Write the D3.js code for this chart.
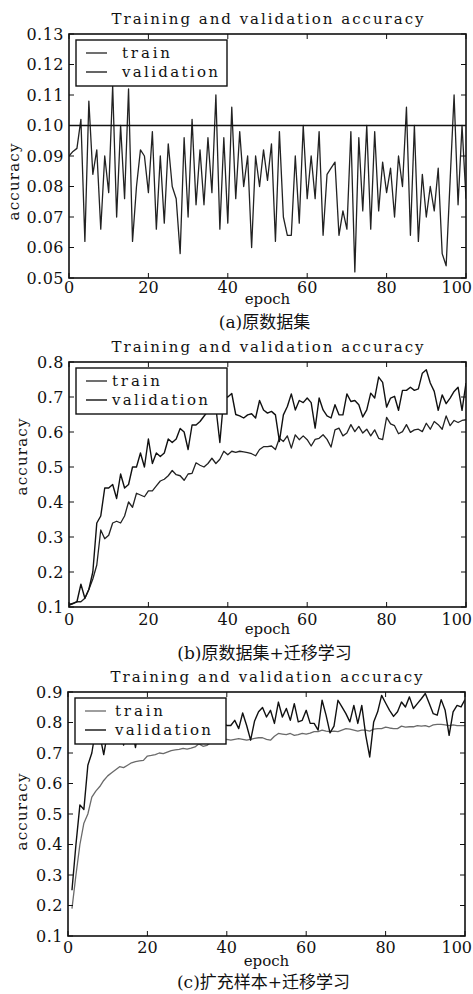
<!DOCTYPE html>
<html>
<head>
<meta charset="utf-8">
<script src="https://cdn.jsdelivr.net/npm/d3@7"></script>
<style>
  body { margin: 0; background: #fff; }
  svg { display: block; }
  text { font-family: "DejaVu Serif", "Noto Sans CJK SC", serif; fill: #111; }
</style>
</head>
<body>
<div id="chart"></div>
<script>
// ---- data ----
const seriesNames = ["train", "validation"];
const titleText = "Training and validation accuracy";
const captions = ["(a)原数据集", "(b)原数据集+迁移学习", "(c)扩充样本+迁移学习"];
const xTicks = [0, 20, 40, 60, 80, 100];
const yTicksA = [0.05, 0.06, 0.07, 0.08, 0.09, 0.10, 0.11, 0.12, 0.13];
const yTicksB = [0.1, 0.2, 0.3, 0.4, 0.5, 0.6, 0.7, 0.8];
const yTicksC = [0.1, 0.2, 0.3, 0.4, 0.5, 0.6, 0.7, 0.8, 0.9];

// (a) epochs 0..100
const trainA = [
  0.090, 0.0915, 0.0925, 0.102, 0.062, 0.108, 0.084, 0.092, 0.066, 0.090,
  0.078, 0.113, 0.070, 0.100, 0.076, 0.112, 0.062, 0.080, 0.092, 0.090,
  0.078, 0.098, 0.066, 0.090, 0.068, 0.094, 0.080, 0.076, 0.058, 0.096,
  0.070, 0.102, 0.074, 0.092, 0.074, 0.096, 0.078, 0.110, 0.066, 0.096,
  0.068, 0.106, 0.076, 0.098, 0.080, 0.090, 0.060, 0.090, 0.080, 0.092,
  0.082, 0.094, 0.062, 0.098, 0.070, 0.064, 0.064, 0.090, 0.068, 0.100,
  0.076, 0.090, 0.076, 0.098, 0.064, 0.084, 0.086, 0.088, 0.064, 0.072,
  0.066, 0.098, 0.052, 0.096, 0.072, 0.100, 0.066, 0.098, 0.072, 0.088,
  0.078, 0.086, 0.070, 0.090, 0.080, 0.106, 0.064, 0.100, 0.062, 0.084,
  0.070, 0.080, 0.072, 0.086, 0.058, 0.054, 0.082, 0.110, 0.074, 0.100,
  0.076
];
const valA = [
  0.1, 0.1, 0.1, 0.1, 0.1, 0.1, 0.1, 0.1, 0.1, 0.1,
  0.1, 0.1, 0.1, 0.1, 0.1, 0.1, 0.1, 0.1, 0.1, 0.1,
  0.1, 0.1, 0.1, 0.1, 0.1, 0.1, 0.1, 0.1, 0.1, 0.1,
  0.1, 0.1, 0.1, 0.1, 0.1, 0.1, 0.1, 0.1, 0.1, 0.1,
  0.1, 0.1, 0.1, 0.1, 0.1, 0.1, 0.1, 0.1, 0.1, 0.1,
  0.1, 0.1, 0.1, 0.1, 0.1, 0.1, 0.1, 0.1, 0.1, 0.1,
  0.1, 0.1, 0.1, 0.1, 0.1, 0.1, 0.1, 0.1, 0.1, 0.1,
  0.1, 0.1, 0.1, 0.1, 0.1, 0.1, 0.1, 0.1, 0.1, 0.1,
  0.1, 0.1, 0.1, 0.1, 0.1, 0.1, 0.1, 0.1, 0.1, 0.1,
  0.1, 0.1, 0.1, 0.1, 0.1, 0.1, 0.1, 0.1, 0.1, 0.1,
  0.1
];

// (b) epochs 0..100
const trainB = [
  0.108, 0.110, 0.115, 0.115, 0.125, 0.150, 0.180, 0.220, 0.320, 0.295,
  0.305, 0.340, 0.345, 0.340, 0.360, 0.400, 0.385, 0.425, 0.420, 0.415,
  0.432, 0.432, 0.446, 0.460, 0.465, 0.475, 0.490, 0.478, 0.475, 0.462,
  0.480, 0.482, 0.512, 0.505, 0.500, 0.510, 0.525, 0.510, 0.522, 0.545,
  0.535, 0.545, 0.542, 0.545, 0.543, 0.541, 0.538, 0.532, 0.550, 0.558,
  0.558, 0.560, 0.550, 0.582, 0.573, 0.589, 0.554, 0.592, 0.578, 0.589,
  0.578, 0.560, 0.579, 0.582, 0.592, 0.579, 0.557, 0.606, 0.611, 0.589,
  0.597, 0.621, 0.601, 0.616, 0.597, 0.608, 0.589, 0.606, 0.582, 0.578,
  0.642, 0.623, 0.618, 0.595, 0.601, 0.621, 0.599, 0.606, 0.608, 0.601,
  0.625, 0.608, 0.630, 0.621, 0.608, 0.646, 0.618, 0.633, 0.627, 0.633,
  0.635
];
const valB = [
  0.105, 0.110, 0.115, 0.165, 0.125, 0.150, 0.200, 0.340, 0.360, 0.440,
  0.440, 0.450, 0.410, 0.480, 0.440, 0.450, 0.500, 0.500, 0.540, 0.500,
  0.580, 0.510, 0.540, 0.530, 0.540, 0.580, 0.570, 0.580, 0.610, 0.600,
  0.550, 0.620, 0.620, 0.630, 0.645, 0.660, 0.660, 0.670, 0.570, 0.700,
  0.700, 0.710, 0.650, 0.646, 0.640, 0.649, 0.652, 0.640, 0.690, 0.663,
  0.654, 0.659, 0.649, 0.573, 0.649, 0.673, 0.709, 0.663, 0.690, 0.684,
  0.697, 0.684, 0.611, 0.697, 0.663, 0.646, 0.640, 0.678, 0.649, 0.649,
  0.709, 0.687, 0.690, 0.678, 0.643, 0.663, 0.711, 0.697, 0.757, 0.742,
  0.671, 0.697, 0.702, 0.662, 0.719, 0.719, 0.728, 0.719, 0.723, 0.768,
  0.778, 0.740, 0.716, 0.662, 0.706, 0.681, 0.697, 0.716, 0.728, 0.662,
  0.740
];

// (c) epochs 1..100
const trainC = [
  0.190, 0.300, 0.400, 0.470, 0.500, 0.555, 0.575, 0.590, 0.610, 0.625,
  0.635, 0.645, 0.655, 0.652, 0.660, 0.668, 0.672, 0.674, 0.676, 0.690,
  0.692, 0.695, 0.700, 0.698, 0.703, 0.708, 0.710, 0.712, 0.715, 0.713,
  0.716, 0.720, 0.730, 0.722, 0.725, 0.735, 0.738, 0.740, 0.742, 0.745,
  0.742, 0.745, 0.747, 0.745, 0.742, 0.745, 0.748, 0.750, 0.750, 0.745,
  0.742, 0.755, 0.764, 0.762, 0.760, 0.764, 0.758, 0.760, 0.764, 0.762,
  0.765, 0.770, 0.770, 0.775, 0.772, 0.770, 0.772, 0.770, 0.775, 0.780,
  0.778, 0.775, 0.772, 0.775, 0.775, 0.772, 0.778, 0.780, 0.780, 0.785,
  0.782, 0.780, 0.780, 0.788, 0.785, 0.786, 0.786, 0.790, 0.788, 0.790,
  0.786, 0.792, 0.794, 0.794, 0.792, 0.790, 0.792, 0.790, 0.790, 0.790
];
const valC = [
  0.250, 0.400, 0.530, 0.515, 0.660, 0.700, 0.780, 0.760, 0.695, 0.770,
  0.800, 0.780, 0.810, 0.726, 0.800, 0.790, 0.718, 0.800, 0.820, 0.780,
  0.810, 0.800, 0.830, 0.790, 0.810, 0.800, 0.840, 0.800, 0.820, 0.790,
  0.830, 0.810, 0.800, 0.840, 0.790, 0.820, 0.810, 0.780, 0.800, 0.790,
  0.790, 0.807, 0.780, 0.831, 0.790, 0.742, 0.805, 0.835, 0.849, 0.818,
  0.840, 0.797, 0.867, 0.818, 0.846, 0.807, 0.862, 0.802, 0.807, 0.840,
  0.797, 0.797, 0.775, 0.873, 0.824, 0.766, 0.788, 0.873, 0.851, 0.829,
  0.802, 0.856, 0.797, 0.856, 0.758, 0.687, 0.802, 0.835, 0.889, 0.864,
  0.840, 0.820, 0.835, 0.867, 0.851, 0.884, 0.846, 0.862, 0.878, 0.895,
  0.862, 0.829, 0.824, 0.875, 0.840, 0.758, 0.835, 0.856, 0.851, 0.875
];

// ---- layout ----
const width = 473, height = 994;
const svg = d3.select("#chart").append("svg")
  .attr("width", width)
  .attr("height", height);

const panels = [
  { top: 34, bottom: 278, left: 69, right: 466, yDomain: [0.05, 0.13], yTicks: yTicksA, fmt: d3.format(".2f"),
    series: [trainA, valA], start: 0, colors: ["#222", "#111"], widths: [1.3, 1.3],
    ylabX: 14, ylabY: 182, legendTextX: 122, xlabBase: 15, epochY: 304, capY: 328, caption: captions[0] },
  { top: 362, bottom: 607, left: 69, right: 466, yDomain: [0.1, 0.8], yTicks: yTicksB, fmt: d3.format(".1f"),
    series: [trainB, valB], start: 0, colors: ["#222", "#111"], widths: [1.3, 1.4],
    ylabX: 22, ylabY: 457, legendTextX: 112, xlabBase: 18, epochY: 634, capY: 659, caption: captions[1] },
  { top: 692, bottom: 936, left: 68, right: 465, yDomain: [0.1, 0.9], yTicks: yTicksC, fmt: d3.format(".1f"),
    series: [trainC, valC], start: 1, colors: ["#6a6a6a", "#111"], widths: [1.3, 1.4],
    ylabX: 22, ylabY: 812, legendTextX: 115, xlabBase: 17, epochY: 966, capY: 988, caption: captions[2] }
];

panels.forEach((p, pi) => {
  const x = d3.scaleLinear().domain([0, 100]).range([p.left, p.right]);
  const y = d3.scaleLinear().domain(p.yDomain).range([p.bottom, p.top]);
  const g = svg.append("g");
  const cx = (p.left + p.right) / 2;

  // clip the curves to the plot box
  const clipId = "clip" + pi;
  svg.append("defs").append("clipPath").attr("id", clipId)
    .append("rect")
    .attr("x", p.left).attr("y", p.top)
    .attr("width", p.right - p.left).attr("height", p.bottom - p.top);

  const line = d3.line()
    .x((d, i) => x(i + p.start))
    .y(d => y(d));
  const lg = g.append("g").attr("clip-path", `url(#${clipId})`);
  p.series.forEach((s, si) => {
    lg.append("path")
      .datum(s)
      .attr("fill", "none")
      .attr("stroke", p.colors[si])
      .attr("stroke-width", p.widths[si])
      .attr("stroke-linejoin", "round")
      .attr("d", line);
  });

  // frame
  g.append("rect")
    .attr("x", p.left).attr("y", p.top)
    .attr("width", p.right - p.left).attr("height", p.bottom - p.top)
    .attr("fill", "none").attr("stroke", "#111").attr("stroke-width", 1.6);

  const tl = 5;
  // x ticks, inward on bottom and top
  xTicks.forEach(t => {
    g.append("line").attr("x1", x(t)).attr("x2", x(t))
      .attr("y1", p.bottom).attr("y2", p.bottom - tl)
      .attr("stroke", "#111").attr("stroke-width", 1);
    g.append("line").attr("x1", x(t)).attr("x2", x(t))
      .attr("y1", p.top).attr("y2", p.top + tl)
      .attr("stroke", "#111").attr("stroke-width", 1);
    const last = t === xTicks[xTicks.length - 1];
    g.append("text")
      .attr("x", last ? width - 1 : x(t)).attr("y", p.bottom + p.xlabBase)
      .attr("text-anchor", last ? "end" : "middle")
      .attr("font-size", 16)
      .text(t);
  });

  // y ticks, inward on left and right
  p.yTicks.forEach(t => {
    g.append("line").attr("x1", p.left).attr("x2", p.left + tl)
      .attr("y1", y(t)).attr("y2", y(t))
      .attr("stroke", "#111").attr("stroke-width", 1);
    g.append("line").attr("x1", p.right).attr("x2", p.right - tl)
      .attr("y1", y(t)).attr("y2", y(t))
      .attr("stroke", "#111").attr("stroke-width", 1);
    g.append("text")
      .attr("x", p.left - 5).attr("y", y(t))
      .attr("dy", "0.36em")
      .attr("text-anchor", "end")
      .attr("font-size", 16)
      .attr("letter-spacing", "0.5px")
      .text(p.fmt(t));
  });

  // title
  g.append("text")
    .attr("x", cx).attr("y", p.top - 10)
    .attr("text-anchor", "middle")
    .attr("font-size", 15)
    .attr("textLength", 312).attr("lengthAdjust", "spacing")
    .text(titleText);

  // x label
  g.append("text")
    .attr("x", cx).attr("y", p.epochY)
    .attr("text-anchor", "middle")
    .attr("font-size", 15)
    .text("epoch");

  // y label
  g.append("text")
    .attr("transform", `translate(${p.ylabX},${p.ylabY}) rotate(-90)`)
    .attr("dy", "0.35em")
    .attr("text-anchor", "middle")
    .attr("font-size", 15)
    .attr("textLength", 77).attr("lengthAdjust", "spacing")
    .text("accuracy");

  // legend
  const lgd = g.append("g");
  lgd.append("rect")
    .attr("x", p.left + 7).attr("y", p.top + 6)
    .attr("width", 151).attr("height", 46)
    .attr("fill", "#fff").attr("stroke", "#111").attr("stroke-width", 1.4);
  seriesNames.forEach((name, si) => {
    const ly = p.top + 19 + si * 19;
    lgd.append("line")
      .attr("x1", p.left + 17).attr("x2", p.left + 38)
      .attr("y1", ly).attr("y2", ly)
      .attr("stroke", p.colors[si]).attr("stroke-width", p.widths[si]);
    lgd.append("text")
      .attr("x", p.legendTextX).attr("y", ly + 5)
      .attr("font-size", 15)
      .attr("textLength", name.length * 9.6).attr("lengthAdjust", "spacing")
      .text(name);
  });

  // caption
  g.append("text")
    .attr("x", cx - 3).attr("y", p.capY)
    .attr("text-anchor", "middle")
    .attr("font-size", 17)
    .text(p.caption);
});
</script>
</body>
</html>
